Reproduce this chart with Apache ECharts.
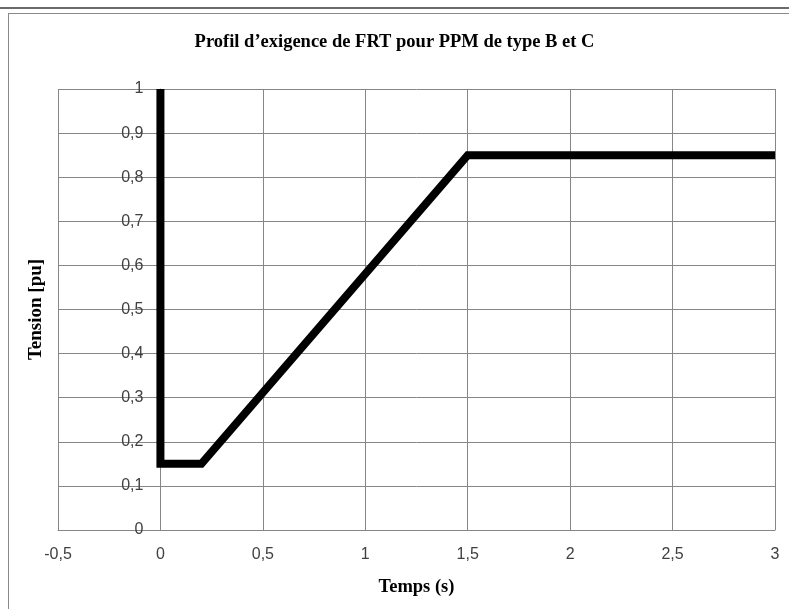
<!DOCTYPE html>
<html>
<head>
<meta charset="utf-8">
<script src="https://cdn.jsdelivr.net/npm/echarts@6/dist/echarts.min.js"></script>
<style>
  html, body { margin: 0; padding: 0; background: #fff; }
  #chart { position: absolute; left: 0; top: 0; width: 789px; height: 609px; }
  .rule1 { position: absolute; left: 0; top: 7px; width: 789px; height: 2px; background: #6b6b6b; }
  .frame { position: absolute; left: 8px; top: 13px; width: 800px; height: 620px; border-top: 1px solid #8a8a8a; border-left: 1px solid #8a8a8a; }
</style>
</head>
<body>
<div class="rule1"></div>
<div class="frame"></div>
<div id="chart"></div>
<script>
  // profil FRT : temps (s) / tension (pu)
  var temps = [0, 0, 0.2, 1.5, 3];
  var tension = [1, 0.15, 0.15, 0.85, 0.85];

  var titre = 'Profil d\u2019exigence de FRT pour PPM de type B et C';
  var nomX = 'Temps (s)';
  var nomY = 'Tension [pu]';

  var points = temps.map(function (t, i) { return [t, tension[i]]; });
  var virgule = function (v) { return String(v).replace('.', ','); };

  var option = {
    animation: false,
    title: {
      text: titre,
      left: 'center',
      top: 28,
      textStyle: { fontFamily: 'Liberation Serif', fontWeight: 'bold', fontSize: 18.5, color: '#000' }
    },
    grid: { left: 58, right: 14, top: 89, bottom: 79, outerBoundsMode: 'none', containLabel: false },
    xAxis: {
      type: 'value',
      min: -0.5,
      max: 3,
      interval: 0.5,
      name: nomX,
      nameLocation: 'middle',
      nameGap: 48,
      nameTextStyle: { fontFamily: 'Liberation Serif', fontWeight: 'bold', fontSize: 18.5, color: '#000' },
      axisLine: { show: true, onZero: false, lineStyle: { color: '#868686', width: 1 } },
      axisTick: { show: false },
      axisLabel: { formatter: virgule, margin: 17, fontFamily: 'Liberation Sans', fontSize: 16, color: '#404040' },
      splitLine: { show: true, lineStyle: { color: '#868686', width: 1 } }
    },
    yAxis: {
      type: 'value',
      min: 0,
      max: 1,
      interval: 0.1,
      offset: -102.4,
      name: nomY,
      nameLocation: 'middle',
      nameGap: 115,
      nameTextStyle: { fontFamily: 'Liberation Serif', fontWeight: 'bold', fontSize: 19, color: '#000' },
      axisLine: { show: true, onZero: false, lineStyle: { color: '#868686', width: 1 } },
      axisTick: { show: false },
      axisLabel: { formatter: virgule, margin: 17, fontFamily: 'Liberation Sans', fontSize: 16, color: '#404040' },
      splitLine: { show: true, lineStyle: { color: '#868686', width: 1 } }
    },
    series: [{
      type: 'line',
      data: points,
      symbol: 'none',
      lineStyle: { color: '#000', width: 8, join: 'miter', cap: 'butt' }
    }]
  };

  echarts.init(document.getElementById('chart')).setOption(option);
</script>
</body>
</html>
